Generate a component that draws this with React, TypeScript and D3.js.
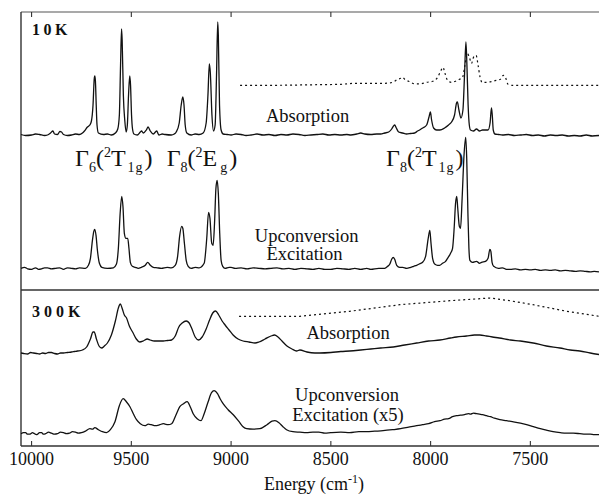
import React from "react";
import * as d3 from "d3";

type P = [number, number];

const xTicks = [10000, 9500, 9000, 8500, 8000, 7500];

// 10 K absorption (energy cm-1, intensity a.u.)
const abs10K: P[] = [
  [10053, 0.5], [10030, -0.5], [10000, 0], [9980, 1], [9960, 0.5], [9935, -0.5], [9920, 0], [9905, 2], [9893, 4], [9885, 1], [9870, 0.5],
  [9858, 3.5], [9850, 3], [9840, 0.5], [9820, -0.5], [9800, 0], [9780, 1], [9760, 0.5], [9745, 2], [9735, 4], [9720, 8], [9708, 10],
  [9700, 14], [9692, 30], [9686, 56], [9683, 59], [9680, 54], [9676, 30], [9672, 10], [9665, 2], [9640, 0.5], [9620, 1], [9600, 0],
  [9580, 2], [9568, 6], [9560, 20], [9554, 70], [9549, 106], [9546, 95], [9540, 40], [9533, 15], [9526, 3], [9520, 10], [9514, 40],
  [9508, 59], [9504, 50], [9499, 20], [9494, 6], [9487, 1], [9470, 0], [9455, 3], [9449, 4], [9440, 2], [9425, 5], [9416, 8],
  [9405, 4], [9390, 1], [9373, 4], [9362, 0], [9345, 1], [9330, 0.5], [9300, 0], [9285, 1], [9275, 3], [9260, 12], [9250, 30],
  [9242, 38], [9236, 30], [9230, 10], [9222, 2], [9200, 0], [9180, 1], [9160, 0.5], [9140, 2], [9125, 12], [9116, 40], [9109, 71],
  [9104, 62], [9096, 20], [9088, 4], [9080, 10], [9073, 60], [9067, 113], [9064, 100], [9058, 30], [9050, 5], [9040, 1], [9020, 0.5],
  [9000, 0], [8975, 1], [8950, 0.5], [8925, -0.5], [8900, 0], [8870, 1], [8840, 0], [8810, 0.5], [8780, -0.5], [8750, 0.5],
  [8720, 0], [8690, 1], [8660, 0.5], [8630, -0.5], [8600, 0], [8570, 0.5], [8540, 1], [8510, 0], [8480, 0.5], [8450, 0],
  [8420, 0.5], [8400, 0], [8370, 1], [8350, 2], [8330, 1], [8300, 0.5], [8270, 1], [8250, 1], [8230, 2], [8210, 3], [8195, 6], [8186, 9],
  [8180, 10], [8172, 7], [8160, 3], [8140, 2], [8120, 1], [8100, 1.5], [8080, 2], [8065, 4], [8055, 5], [8040, 7], [8020, 10],
  [8008, 18], [8001, 23], [7995, 15], [7985, 7], [7970, 5], [7953, 5], [7930, 7], [7910, 10], [7895, 13], [7880, 20], [7870, 32],
  [7866, 33], [7858, 25], [7848, 17], [7838, 25], [7830, 60], [7823, 93], [7818, 70], [7812, 30], [7806, 10], [7800, 5],
  [7785, 4], [7770, 6], [7755, 4], [7740, 5], [7728, 5], [7712, 5], [7702, 12], [7695, 27], [7691, 20], [7686, 5], [7678, 1],
  [7660, 0.5], [7640, 0], [7610, 0.5], [7580, -0.5], [7550, 0], [7520, 0.5], [7490, -0.5], [7460, 0], [7430, -1], [7400, 0],
  [7370, -0.5], [7340, 0], [7310, -1], [7280, -0.5], [7250, -1], [7220, 0], [7190, -1], [7156, -0.5],
];

// 10 K reference absorption (dotted)
const abs10KRef: P[] = [
  [8955, 0], [8800, 0], [8600, 0.5], [8450, 1], [8380, 2], [8300, 2], [8230, 2], [8190, 3], [8165, 6], [8150, 7], [8140, 8],
  [8130, 6], [8110, 4], [8080, 1.5], [8050, 1.5], [8020, 3], [7990, 4], [7965, 8], [7950, 14], [7938, 18], [7928, 12],
  [7915, 5], [7895, 3], [7875, 4], [7855, 6], [7840, 8], [7828, 20], [7816, 32], [7806, 28], [7795, 22], [7785, 28], [7772, 30],
  [7762, 20], [7752, 8], [7742, 3], [7720, 3], [7690, 4], [7670, 5], [7650, 6], [7635, 10], [7625, 8], [7612, 1], [7590, 0],
  [7400, 0], [7156, 0],
];

// 10 K upconversion excitation
const up10K: P[] = [
  [10053, 0], [10035, 1], [10020, -0.5], [10000, -1], [9980, 0.5], [9965, -1], [9950, -0.5], [9935, 0.5], [9920, 0.5], [9900, -0.5],
  [9880, 0], [9860, 0.5], [9840, -1], [9820, 0.5], [9800, 0], [9780, -0.5], [9760, 0.5], [9730, 0], [9715, 3], [9705, 10],
  [9695, 28], [9688, 37], [9683, 39], [9677, 33], [9670, 18], [9660, 5], [9648, 1], [9620, 0], [9590, 0.5], [9575, 4],
  [9565, 20], [9556, 55], [9548, 72], [9542, 62], [9535, 35], [9527, 30], [9518, 30], [9512, 20], [9505, 6], [9495, 2],
  [9480, 1], [9465, 0], [9450, 1], [9430, 3], [9418, 6], [9405, 3], [9390, 1], [9370, 0.5], [9350, 0], [9320, 1], [9300, 0.5],
  [9280, 3], [9268, 12], [9258, 32], [9248, 42], [9242, 40], [9234, 25], [9225, 8], [9215, 2], [9200, 0], [9180, 1], [9160, 0.5],
  [9135, 5], [9122, 30], [9113, 56], [9106, 50], [9097, 25], [9090, 23], [9083, 45], [9076, 80], [9070, 88], [9064, 75],
  [9057, 35], [9050, 8], [9042, 2], [9030, 0], [9010, 1], [9000, 1], [8980, 0], [8950, 0.5], [8920, -0.5], [8890, 0.5],
  [8860, 0], [8830, -0.5], [8800, 0], [8770, 0.5], [8740, -0.5], [8710, 0], [8680, -1], [8650, 0], [8620, -0.5], [8590, -1],
  [8560, 0], [8530, -1], [8500, -1], [8470, 0], [8440, -0.5], [8410, -1], [8380, 0], [8350, -1], [8320, 0], [8300, -1],
  [8260, 0], [8230, 0], [8215, 2], [8205, 4], [8195, 9], [8188, 11], [8180, 9], [8170, 3], [8155, 1], [8140, 1], [8120, 0],
  [8100, 1], [8085, 2], [8070, 3], [8050, 5], [8040, 6], [8025, 12], [8012, 30], [8004, 38], [7998, 25], [7990, 10],
  [7978, 4], [7965, 3], [7955, 3], [7940, 5], [7925, 7], [7915, 10], [7900, 15], [7890, 20], [7882, 40], [7875, 65], [7869, 72],
  [7864, 60], [7856, 42], [7850, 40], [7842, 70], [7832, 115], [7824, 131], [7819, 110], [7813, 55], [7808, 20], [7803, 8],
  [7790, 6], [7770, 7], [7755, 5], [7745, 6], [7725, 7], [7712, 10], [7703, 19], [7698, 17], [7692, 6], [7684, 2], [7660, 0],
  [7640, 0.5], [7620, -1], [7600, -1], [7575, -0.5], [7550, -1.5], [7525, -1], [7500, -1.5], [7475, -1], [7450, -2],
  [7425, -1.5], [7400, -2], [7375, -1.5], [7350, -2.5], [7325, -2], [7300, -2.5], [7275, -3], [7250, -2.5], [7225, -3],
  [7200, -3.5], [7180, -3], [7156, -3.5],
];

// 300 K absorption
const abs300K: P[] = [
  [10053, 0], [10040, -0.5], [10020, -1], [10005, 0.5], [9990, 0], [9975, -0.5], [9960, -1], [9945, 0], [9930, -0.5],
  [9915, 0.5], [9900, 0.5], [9885, -0.5], [9870, -1], [9855, 0], [9840, 0], [9820, 0.5], [9800, 1], [9785, 1.5], [9770, 2],
  [9745, 3], [9724, 6], [9705, 14], [9692, 21], [9686, 21], [9675, 14], [9662, 7], [9649, 5], [9635, 7], [9620, 10],
  [9600, 18], [9580, 32], [9565, 45], [9555, 49], [9545, 44], [9535, 38], [9524, 35], [9510, 27], [9491, 20], [9475, 14],
  [9458, 11], [9440, 12], [9420, 14], [9405, 13], [9385, 12], [9360, 12], [9340, 12], [9318, 12.5], [9298, 13], [9280, 17],
  [9262, 26], [9245, 30], [9225, 32], [9210, 30], [9198, 25], [9180, 16], [9163, 13], [9145, 16], [9125, 24], [9108, 33],
  [9092, 40], [9078, 42], [9062, 38], [9045, 32], [9030, 28], [9010, 23], [8990, 18], [8965, 14], [8940, 12], [8910, 11],
  [8880, 10], [8860, 11], [8830, 14], [8800, 17], [8782, 18], [8765, 16], [8745, 12], [8720, 7], [8695, 4], [8672, 2],
  [8655, 3], [8620, 1], [8580, 0], [8555, 0], [8500, 0.5], [8450, 1.5], [8405, 2], [8350, 3], [8300, 4], [8250, 5],
  [8187, 6], [8130, 8], [8070, 10], [8010, 12], [7953, 13], [7900, 15], [7870, 16], [7820, 17], [7780, 18], [7753, 18],
  [7720, 17], [7690, 16], [7656, 15], [7600, 13], [7550, 12], [7486, 10], [7420, 7], [7352, 5], [7300, 3], [7252, 2],
  [7200, 0], [7156, -1.5],
];

// 300 K reference absorption (dotted)
const abs300KRef: P[] = [
  [8960, 0], [8800, 0], [8655, 0], [8405, 5], [8154, 11.6], [7903, 15.6], [7760, 17.5], [7703, 18.3], [7600, 15.5],
  [7487, 11.6], [7317, 5], [7156, 0],
];

// 300 K upconversion excitation (x5)
const up300K: P[] = [
  [10053, 0], [10040, 1], [10030, 1], [10020, -0.5], [10010, -0.5], [9995, 1], [9990, 0.5], [9975, -1], [9970, -0.5],
  [9960, 1], [9950, 1], [9940, -0.5], [9930, 0], [9915, 1.5], [9900, 0.5], [9885, -0.5], [9870, 0], [9855, 1.5], [9840, 1],
  [9825, 0], [9810, 0.5], [9795, 2], [9780, 1.5], [9765, 0.5], [9750, 1], [9730, 2.5], [9708, 5], [9695, 4.5], [9683, 6],
  [9665, 4], [9645, 2], [9624, 1], [9605, 4], [9582, 12], [9560, 28], [9541, 35], [9525, 32], [9507, 27], [9490, 20],
  [9474, 14], [9455, 10], [9432, 8], [9415, 9.5], [9400, 9], [9380, 8], [9357, 9], [9340, 10], [9330, 9.5], [9315, 9],
  [9298, 10], [9278, 18], [9257, 27], [9238, 30], [9220, 32], [9205, 27], [9190, 20], [9170, 15], [9151, 13], [9135, 20],
  [9115, 32], [9098, 41], [9085, 43], [9068, 40], [9055, 35], [9040, 30], [9015, 24], [8989, 19], [8960, 12], [8940, 7],
  [8922, 5], [8890, 4.5], [8856, 5], [8820, 9], [8795, 12.5], [8780, 13], [8760, 11], [8740, 7], [8722, 4], [8690, 2],
  [8655, 1.5], [8622, 1], [8590, 1.5], [8560, 1.5], [8530, 0.5], [8500, 1], [8450, 1.5], [8405, 1], [8360, 2], [8320, 2],
  [8280, 2.5], [8238, 3], [8190, 4], [8150, 5], [8110, 6.5], [8070, 8], [8040, 9], [8010, 10], [7980, 12], [7953, 13],
  [7930, 14.5], [7910, 15], [7890, 17], [7870, 18], [7850, 18.5], [7830, 19], [7810, 20], [7800, 19.5], [7785, 20.5],
  [7770, 20], [7755, 19.5], [7740, 19], [7720, 18], [7700, 17], [7680, 15.5], [7653, 14], [7620, 13], [7590, 12], [7550, 10.5],
  [7519, 9], [7485, 7], [7450, 5], [7420, 3.5], [7386, 2], [7350, 1], [7320, 0.5], [7285, 0.5], [7252, 0], [7225, -0.5],
  [7200, -0.5], [7180, -1], [7156, -1],
];

const FONT = "Liberation Serif";

export default function App() {
  const x = d3.scaleLinear().domain([10053, 7156]).range([21, 599]);
  const yTop = d3.scaleLinear().domain([0, 278]).range([290, 12]);
  const yBot = d3.scaleLinear().domain([0, 156]).range([446, 290]);

  const path = (
    data: P[],
    y: d3.ScaleLinear<number, number>,
    offset: number,
    curve: d3.CurveFactory = d3.curveMonotoneX
  ) =>
    d3
      .line<P>()
      .x((d) => x(d[0]))
      .y((d) => y(d[1] + offset))
      .curve(curve)(data) || "";

  const frame = "#333";
  const sub = { fontSize: 14 };
  const ts = { fontFamily: FONT };

  return (
    <svg
      width={599}
      height={494}
      style={{ position: "absolute", left: 0, top: 0, display: "block", background: "#fff", fontFamily: FONT }}
    >
      <rect x={0} y={0} width={599} height={494} fill="#fff" />
      {/* frame */}
      <line x1={21} x2={599} y1={12} y2={12} stroke="#555" strokeWidth={1.2} />
      <line x1={21} x2={599} y1={290} y2={290} stroke={frame} strokeWidth={1.4} />
      <line x1={21} x2={599} y1={446} y2={446} stroke={frame} strokeWidth={1.4} />
      <line x1={21} x2={21} y1={12} y2={446} stroke={frame} strokeWidth={1.4} />
      {xTicks.map((t) => (
        <g key={t}>
          <line x1={x(t)} x2={x(t)} y1={12} y2={17} stroke={frame} strokeWidth={1.1} />
          <line x1={x(t)} x2={x(t)} y1={446} y2={441} stroke={frame} strokeWidth={1.1} />
          <text x={x(t)} y={465} textAnchor="middle" fontSize={18} fill="#111" style={ts}>
            {t}
          </text>
        </g>
      ))}
      <text x={314} y={490} textAnchor="middle" fontSize={18} fill="#111" style={ts}>
        Energy (cm
        <tspan fontSize={12} dy={-7}>-1</tspan>
        <tspan dy={7}>)</tspan>
      </text>

      {/* traces */}
      <g fill="none" stroke="#111" strokeWidth={1.3} strokeLinejoin="round">
        <path d={path(abs10K, yTop, 155)} />
        <path d={path(up10K, yTop, 21.7)} />
        <path d={path(abs300K, yBot, 93)} />
        <path d={path(up300K, yBot, 12.3)} />
      </g>
      <g fill="none" stroke="#111" strokeWidth={1.2} strokeDasharray="2,3">
        <path d={path(abs10KRef, yTop, 204.7)} />
        <path d={path(abs300KRef, yBot, 129.7, d3.curveLinear)} />
      </g>

      {/* labels */}
      <text x={32} y={35} fontSize={16} fontWeight="bold" letterSpacing={3.5} fill="#111" style={ts}>10K</text>
      <text x={32} y={317} fontSize={16} fontWeight="bold" letterSpacing={4} fill="#111" style={ts}>300K</text>

      <g fontSize={18.5} fill="#111" textAnchor="middle" style={ts}>
        <text x={307.5} y={122}>Absorption</text>
        <text x={306.7} y={241.5}>Upconversion</text>
        <text x={304.5} y={259.5}>Excitation</text>
        <text x={348} y={338.7}>Absorption</text>
        <text x={347} y={400.5}>Upconversion</text>
        <text x={348} y={421}>Excitation (x5)</text>
      </g>

      <g fontSize={24} fill="#111" style={ts}>
        <text x={75} y={165.7}>
          Γ<tspan {...sub} dy={6}>6</tspan>
          <tspan dy={-6}>(</tspan>
          <tspan {...sub} dy={-9}>2</tspan>
          <tspan dy={9}>T</tspan>
          <tspan {...sub} dy={6} dx={2}>1</tspan>
          <tspan {...sub} dx={1}>g</tspan>
          <tspan dy={-6} dx={2}>)</tspan>
        </text>
        <text x={166.7} y={165.7}>
          Γ<tspan {...sub} dy={6}>8</tspan>
          <tspan dy={-6}>(</tspan>
          <tspan {...sub} dy={-9}>2</tspan>
          <tspan dy={9}>E</tspan>
          <tspan {...sub} dy={6} dx={3}>g</tspan>
          <tspan dy={-6} dx={2}>)</tspan>
        </text>
        <text x={386} y={165.7}>
          Γ<tspan {...sub} dy={6}>8</tspan>
          <tspan dy={-6}>(</tspan>
          <tspan {...sub} dy={-9}>2</tspan>
          <tspan dy={9}>T</tspan>
          <tspan {...sub} dy={6} dx={2}>1</tspan>
          <tspan {...sub} dx={1}>g</tspan>
          <tspan dy={-6} dx={2}>)</tspan>
        </text>
      </g>
    </svg>
  );
}
